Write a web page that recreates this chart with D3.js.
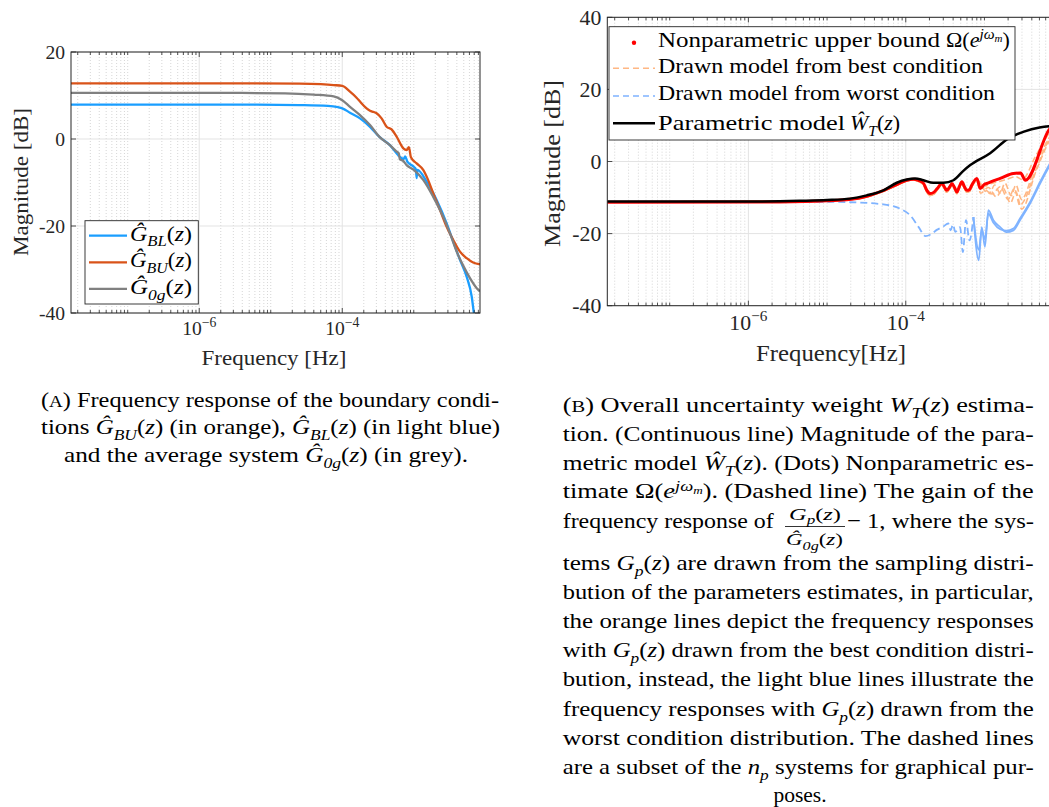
<!DOCTYPE html>
<html><head><meta charset="utf-8">
<script src="https://d3js.org/d3.v7.min.js"></script>
<style>
  body { margin: 0; background: #fff; }
  svg text { font-family: "Liberation Serif", "Times New Roman", serif; }
</style>
</head><body>
<svg id="fig" width="1049" height="807" font-family="Liberation Serif, serif"></svg>
<script>
// values: [log10 frequency in Hz, magnitude in dB]
const freqExtent = [-7.793, -2.074];
const freqLabels = [-6, -4];
const magTicksA = [-40, -20, 0, 20];
const magTicksB = [-40, -20, 0, 20, 40];

// (a) boundary conditions
const gBL = [[-7.793, 7.9], [-5.2, 7.9], [-4.6, 7.8], [-4.2, 7.6], [-4.06, 7.3], [-4.0, 7.05], [-3.892, 6.05], [-3.752, 4.75],
  [-3.612, 2.8], [-3.48, 0.5], [-3.334, -1.4], [-3.194, -4.1], [-3.14, -4.6], [-3.12, -4.0], [-3.09, -5.2], [-3.0, -6.4],
  [-2.97, -7.0], [-2.96, -9.0], [-2.95, -7.1], [-2.82, -9.8], [-2.68, -14.0], [-2.54, -19.4], [-2.448, -23.6], [-2.354, -27.8],
  [-2.26, -31.7], [-2.19, -36.2], [-2.16, -40.0], [-2.14, -42.5]];
const gBU = [[-7.793, 12.8], [-5.2, 12.8], [-4.6, 12.75], [-4.3, 12.6], [-4.12, 12.4], [-4.0, 12.2], [-3.892, 10.9], [-3.8, 9.5],
  [-3.752, 8.6], [-3.66, 7.05], [-3.612, 6.5], [-3.56, 6.2], [-3.52, 5.9], [-3.45, 4.75], [-3.38, 2.83], [-3.31, 2.2], [-3.24, 0.53],
  [-3.146, -2.14], [-3.10, -2.53], [-3.068, -1.9], [-3.04, -4.2], [-2.96, -5.6], [-2.868, -7.1], [-2.8, -9.4], [-2.728, -12.5],
  [-2.634, -16.3], [-2.54, -20.2], [-2.448, -23.2], [-2.354, -25.9], [-2.26, -27.4], [-2.17, -28.4], [-2.074, -28.8]];
const g0g = [[-7.793, 10.6], [-5.6, 10.6], [-4.8, 10.5], [-4.4, 10.2], [-4.12, 9.8], [-4.0, 8.9], [-3.892, 7.4], [-3.752, 5.5],
  [-3.612, 3.2], [-3.48, 0.5], [-3.334, -1.4], [-3.24, -2.9], [-3.21, -3.3], [-3.194, -4.7], [-3.15, -5.0], [-3.1, -6.0],
  [-3.0, -7.1], [-2.868, -9.4], [-2.728, -13.3], [-2.588, -17.9], [-2.494, -21.7], [-2.4, -25.9], [-2.3, -29.4], [-2.214, -32.0],
  [-2.12, -34.3], [-2.074, -35.0]];

// (b) uncertainty weight
const wtModel = [[-7.793, -11.1], [-6.0, -11.1], [-5.344, -10.9], [-5.0, -10.7], [-4.708, -10.3], [-4.496, -9.4], [-4.284, -8.0],
  [-4.114, -5.9], [-3.988, -5.0], [-3.88, -4.7], [-3.776, -5.2], [-3.65, -5.9], [-3.52, -5.9], [-3.394, -5.2], [-3.268, -2.6],
  [-3.18, -1.0], [-2.928, 2.3], [-2.69, 6.5], [-2.508, 8.2], [-2.3, 9.45], [-2.18, 9.8], [-2.074, 9.9]];
const omegaBound = [[-7.793, -11.3], [-5.6, -11.2], [-5.0, -10.9], [-4.6, -10.2], [-4.328, -8.45], [-4.114, -6.4], [-3.988, -5.2],
  [-3.904, -4.9], [-3.84, -5.2], [-3.776, -6.0], [-3.732, -8.0], [-3.692, -8.9], [-3.64, -8.5], [-3.6, -7.5], [-3.54, -6.1],
  [-3.51, -7.0], [-3.48, -8.0], [-3.44, -7.0], [-3.414, -6.1], [-3.38, -7.2], [-3.35, -8.45], [-3.32, -7.0], [-3.286, -5.65],
  [-3.254, -7.0], [-3.224, -8.0], [-3.19, -7.8], [-3.16, -6.5], [-3.096, -4.7], [-3.054, -7.5], [-3.0, -6.3], [-2.97, -6.1],
  [-2.88, -5.3], [-2.8, -4.7], [-2.632, -3.3], [-2.54, -3.2], [-2.48, -5.2], [-2.18, 8.8], [-2.074, 11.5]];
const bestShared = [[-7.793, -11.2], [-5.0, -10.9], [-4.6, -10.3], [-4.328, -8.6], [-4.114, -6.6], [-3.988, -5.4], [-3.904, -5.1],
  [-3.84, -5.5], [-3.776, -6.4], [-3.732, -8.5], [-3.692, -9.4], [-3.64, -9.0], [-3.6, -7.9], [-3.54, -6.5], [-3.51, -7.5],
  [-3.48, -8.5], [-3.44, -7.4], [-3.414, -6.5], [-3.38, -7.7], [-3.35, -8.9], [-3.32, -7.4], [-3.286, -6.1], [-3.254, -7.5],
  [-3.224, -8.5], [-3.19, -8.3], [-3.16, -7.0], [-3.096, -5.2]];
const bestTails = [
  [[-3.0, -6.8], [-2.9, -6.0], [-2.8, -5.5], [-2.7, -4.8], [-2.6, -4.2], [-2.52, -5.0], [-2.35, 1.5], [-2.18, 7.8], [-2.074, 10.5]],
  [[-3.0, -7.5], [-2.93, -8.6], [-2.87, -6.5], [-2.8, -8.8], [-2.74, -6.0], [-2.66, -9.5], [-2.6, -6.5], [-2.53, -10.5], [-2.35, -1.0], [-2.18, 6.5], [-2.074, 9.5]],
  [[-3.05, -8.8], [-2.95, -7.2], [-2.85, -9.8], [-2.76, -7.5], [-2.67, -11.5], [-2.6, -8.5], [-2.526, -13.2], [-2.35, -3.0], [-2.18, 5.5], [-2.074, 8.8]],
  [[-3.0, -8.0], [-2.9, -9.0], [-2.8, -7.0], [-2.7, -10.5], [-2.62, -7.5], [-2.55, -12.2], [-2.5, -11.0], [-2.35, -2.5], [-2.18, 6.0], [-2.074, 9.0]]
];
const worstShared = [[-7.793, -11.2], [-5.0, -11.2], [-4.708, -11.3], [-4.284, -11.9], [-4.072, -13.1], [-3.94, -15.0], [-3.836, -18.2],
  [-3.75, -20.7], [-3.68, -20.2], [-3.6, -18.9], [-3.52, -18.0], [-3.46, -17.2], [-3.43, -19.1], [-3.40, -17.5], [-3.37, -19.5],
  [-3.31, -18.2], [-3.274, -25.1], [-3.234, -16.3], [-3.19, -21.9], [-3.14, -15.4]];
const worstTails = [
  [[-3.072, -27.4], [-3.034, -18.2], [-2.994, -23.7], [-2.95, -13.5], [-2.886, -16.3], [-2.8, -18.2], [-2.72, -19.6], [-2.632, -19.1],
   [-2.548, -16.3], [-2.42, -11.7], [-2.292, -6.1], [-2.18, -1.5], [-2.074, 2.5]],
  [[-3.072, -24.5], [-3.034, -19.0], [-2.994, -21.5], [-2.95, -14.5], [-2.886, -17.0], [-2.8, -18.8], [-2.72, -19.2], [-2.632, -18.6],
   [-2.548, -15.8], [-2.42, -11.2], [-2.292, -5.6], [-2.18, -1.0], [-2.074, 3.0]]
];

const INK = "#262626";
const svg = d3.select("#fig");
svg.append("rect").attr("width", 1049).attr("height", 807).attr("fill", "#fff");

// --- little helpers for text with italics / sub / superscripts
const R = t => ({t});
const I = t => ({t, it: 1});
const SB = (t, it = 1) => ({t, it, sh: 0.28, sc: 0.7});
const SP = (t, it = 1) => ({t, it, sh: -0.36, sc: 0.7});
const SPSB = t => ({t, it: 1, sh: -0.2, sc: 0.5});

function rich(g, x, y, size, segs) {
  const t = g.append("text").attr("x", x).attr("y", y).attr("font-size", size);
  let cur = 0;
  segs.forEach(s => {
    const sh = (s.sh || 0) * size;
    const sp = t.append("tspan").text(s.t);
    if (sh !== cur) { sp.attr("dy", sh - cur); cur = sh; }
    if (s.sc) sp.attr("font-size", size * s.sc);
    if (s.it) sp.attr("font-style", "italic");
  });
  return t;
}
const fit = (t, len) => t.attr("textLength", len).attr("lengthAdjust", "spacingAndGlyphs");

// --- one axes box, matlab style
function panel(id, x, y, magTicks, fs) {
  const g = svg.append("g");
  const [x0, x1] = x.range(), [yb, yt] = y.range();
  const [d0, d1] = x.domain();
  const major = freqLabels.map(e => 10 ** e);
  const minor = [];
  for (let d = -8; d <= -2; d++) for (let k = 1; k <= 9; k++) {
    const v = k * 10 ** d;
    if (v >= d0 && v <= d1 && !(k === 1 && freqLabels.includes(d))) minor.push(v);
  }
  g.selectAll(".mg").data(minor).join("line")
    .attr("x1", d => x(d)).attr("x2", d => x(d)).attr("y1", yb).attr("y2", yt)
    .attr("stroke", "#c4c4c4").attr("stroke-width", 0.7).attr("stroke-dasharray", "1,2");
  g.selectAll(".Mg").data(major).join("line")
    .attr("x1", d => x(d)).attr("x2", d => x(d)).attr("y1", yb).attr("y2", yt)
    .attr("stroke", "#e3e3e3").attr("stroke-width", 1);
  g.selectAll(".hg").data(magTicks).join("line")
    .attr("x1", x0).attr("x2", x1).attr("y1", d => y(d)).attr("y2", d => y(d))
    .attr("stroke", "#e3e3e3").attr("stroke-width", 1);

  svg.append("clipPath").attr("id", id).append("rect")
    .attr("x", x0).attr("y", yt).attr("width", x1 - x0).attr("height", yb - yt);
  const curves = svg.append("g").attr("clip-path", `url(#${id})`);

  const frame = svg.append("g");
  frame.append("rect").attr("x", x0).attr("y", yt).attr("width", x1 - x0).attr("height", yb - yt)
    .attr("fill", "none").attr("stroke", INK).attr("stroke-width", 1);
  [[yb, -1], [yt, 1]].forEach(([yy, s]) => {
    frame.selectAll(null).data(minor).join("line")
      .attr("x1", d => x(d)).attr("x2", d => x(d)).attr("y1", yy).attr("y2", yy + s * 3)
      .attr("stroke", INK).attr("stroke-width", 0.8);
    frame.selectAll(null).data(major).join("line")
      .attr("x1", d => x(d)).attr("x2", d => x(d)).attr("y1", yy).attr("y2", yy + s * 5)
      .attr("stroke", INK).attr("stroke-width", 0.8);
  });
  [[x0, 1], [x1, -1]].forEach(([xx, s]) => {
    frame.selectAll(null).data(magTicks).join("line")
      .attr("x1", xx).attr("x2", xx + s * 5).attr("y1", d => y(d)).attr("y2", d => y(d))
      .attr("stroke", INK).attr("stroke-width", 0.8);
  });
  frame.selectAll(null).data(magTicks).join("text")
    .attr("x", x0 - 6).attr("y", d => y(d) + fs * 0.35)
    .attr("text-anchor", "end").attr("font-size", fs).attr("fill", INK)
    .text(d => d);
  freqLabels.forEach(e => {
    rich(frame, x(10 ** e), yb + fs * 1.12, fs, [R("10"), {t: "\u2212" + Math.abs(e), sh: -0.42, sc: 0.7}])
      .attr("text-anchor", "middle").attr("fill", INK);
  });
  return {curves, frame};
}

const line = (x, y) => d3.line().x(d => x(10 ** d[0])).y(d => y(d[1])).curve(d3.curveMonotoneX);

// ================= panel (a)
const xA = d3.scaleLog().domain(freqExtent.map(e => 10 ** e)).range([71, 480]);
const yA = d3.scaleLinear().domain([-40, 20]).range([313, 52]);
const pA = panel("clipA", xA, yA, magTicksA, 19.6);
const lA = line(xA, yA);
const seriesA = [
  {data: gBL, color: "#1a9eff", label: [I("\u011C"), SB("BL"), R("("), I("z"), R(")")]},
  {data: gBU, color: "#d95319", label: [I("\u011C"), SB("BU"), R("("), I("z"), R(")")]},
  {data: g0g, color: "#808080", label: [I("\u011C"), SB("0g"), R("("), I("z"), R(")")]}
];
pA.curves.selectAll("path").data(seriesA).join("path")
  .attr("d", d => lA(d.data)).attr("fill", "none")
  .attr("stroke", d => d.color).attr("stroke-width", 2.3);

const legA = svg.append("g");
legA.append("rect").attr("x", 85).attr("y", 220.7).attr("width", 113.3).attr("height", 83.3)
  .attr("fill", "#fff").attr("stroke", INK).attr("stroke-width", 0.9);
seriesA.forEach((s, i) => {
  const yy = 235.7 + i * 26.6;
  legA.append("line").attr("x1", 89).attr("x2", 127).attr("y1", yy).attr("y2", yy)
    .attr("stroke", s.color).attr("stroke-width", 2.3);
  fit(rich(legA, 130, yy + 5, 20.5, s.label), 62).attr("fill", "#000");
});
fit(svg.append("text").attr("x", 274).attr("y", 365).attr("text-anchor", "middle")
  .attr("font-size", 21.6).attr("fill", INK).text("Frequency [Hz]"), 145);
fit(svg.append("text").attr("transform", "translate(28,182) rotate(-90)").attr("text-anchor", "middle")
  .attr("font-size", 21.6).attr("fill", INK).text("Magnitude [dB]"), 148);

// ================= panel (b)
const xB = d3.scaleLog().domain(freqExtent.map(e => 10 ** e)).range([607.3, 1057.3]);
const yB = d3.scaleLinear().domain([-40, 40]).range([305.7, 17.3]);
const pB = panel("clipB", xB, yB, magTicksB, 21.8);
const lB = line(xB, yB);
const bestColor = "#ffb784", worstColor = "#7fb3ff";

// worst condition: sparse part dashed, dense high-frequency part looks solid
pB.curves.append("path").attr("d", lB(worstShared)).attr("fill", "none")
  .attr("stroke", worstColor).attr("stroke-width", 1.8).attr("stroke-dasharray", "7,4");
pB.curves.selectAll("path.worst").data(worstTails.map(t => worstShared.slice(-1).concat(t))).join("path")
  .attr("class", "worst").attr("d", lB).attr("fill", "none")
  .attr("stroke", worstColor).attr("stroke-width", 1.8);
pB.curves.selectAll("path.best").data(bestTails.map(t => bestShared.concat(t))).join("path")
  .attr("class", "best").attr("d", lB).attr("fill", "none")
  .attr("stroke", bestColor).attr("stroke-width", 1.6)
  .attr("stroke-dasharray", "6,3").attr("stroke-dashoffset", (d, i) => i * 2.5);
pB.curves.append("path").attr("d", lB(omegaBound)).attr("fill", "none")
  .attr("stroke", "#ff0000").attr("stroke-width", 3);
pB.curves.append("path").attr("d", lB(wtModel)).attr("fill", "none")
  .attr("stroke", "#000").attr("stroke-width", 2.5);

const legB = svg.append("g").attr("fill", "#000");
legB.append("rect").attr("x", 609).attr("y", 26.7).attr("width", 406).attr("height", 113.3)
  .attr("fill", "#fff").attr("stroke", INK).attr("stroke-width", 0.9);
legB.append("circle").attr("cx", 634).attr("cy", 42.7).attr("r", 2.2).attr("fill", "#ff0000");
[[68.3, bestColor], [96, worstColor]].forEach(([yy, c]) => {
  legB.append("line").attr("x1", 613).attr("x2", 655).attr("y1", yy).attr("y2", yy)
    .attr("stroke", c).attr("stroke-width", 1.6).attr("stroke-dasharray", "6,4");
});
legB.append("line").attr("x1", 613).attr("x2", 655).attr("y1", 123.3).attr("y2", 123.3)
  .attr("stroke", "#000").attr("stroke-width", 2.5);
// [baseline, words, width of words, math part, x where the math starts]
const legBText = [
  [46.7, "Nonparametric upper bound", 282, [R("\u03A9("), I("e"), SP("j\u03C9"), SPSB("m"), R(")")], 946],
  [73.3, "Drawn model from best condition", 325, null],
  [100, "Drawn model from worst condition", 337, null],
  [130, "Parametric model", 187, [I("\u0174"), SB("T"), R("("), I("z"), R(")")], 850]
];
legBText.forEach(([yy, words, len, math, mx]) => {
  fit(legB.append("text").attr("x", 658).attr("y", yy).attr("font-size", 22).text(words), len);
  if (math) rich(legB, mx, yy, 22, math);
});

fit(svg.append("text").attr("x", 831).attr("y", 361).attr("text-anchor", "middle")
  .attr("font-size", 24).attr("fill", INK).text("Frequency[Hz]"), 150);
fit(svg.append("text").attr("transform", "translate(560,163.5) rotate(-90)").attr("text-anchor", "middle")
  .attr("font-size", 24).attr("fill", INK).text("Magnitude [dB]"), 167);

// ================= captions
const cap = svg.append("g").attr("fill", "#000");
const CS = 21.5;
const captionA = [
  [[R("("), {t: "A", sc: 0.78}, R(") Frequency response of the boundary condi-")], 41, 458],
  [[R("tions "), I("\u011C"), SB("BU"), R("("), I("z"), R(") (in orange), "), I("\u011C"), SB("BL"), R("("), I("z"), R(") (in light blue)")], 41, 459],
  [[R("and the average system "), I("\u011C"), SB("0g"), R("("), I("z"), R(") (in grey).")], 64, 404]
];
captionA.forEach(([segs, x, len], i) => fit(rich(cap, x, 406.5 + i * 27.5, CS, segs), len));

const captionB = [
  [R("("), {t: "B", sc: 0.78}, R(") Overall uncertainty weight "), I("W"), SB("T"), R("("), I("z"), R(") estima-")],
  [R("tion.  (Continuous line) Magnitude of the para-")],
  [R("metric model "), I("\u0174"), SB("T"), R("("), I("z"), R("). (Dots) Nonparametric es-")],
  [R("timate \u03A9("), I("e"), SP("j\u03C9"), SPSB("m"), R("). (Dashed line) The gain of the")],
  null,
  [R("tems "), I("G"), SB("p"), R("("), I("z"), R(") are drawn from the sampling distri-")],
  [R("bution of the parameters estimates, in particular,")],
  [R("the orange lines depict the frequency responses")],
  [R("with "), I("G"), SB("p"), R("("), I("z"), R(") drawn from the best condition distri-")],
  [R("bution, instead, the light blue lines illustrate the")],
  [R("frequency responses with "), I("G"), SB("p"), R("("), I("z"), R(") drawn from the")],
  [R("worst condition distribution.  The dashed lines")],
  [R("are a subset of the "), I("n"), SB("p"), R(" systems for graphical pur-")]
];
const baseB = i => i < 5 ? 411.7 + i * 28.9 : 570 + (i - 5) * 29.1;
captionB.forEach((segs, i) => {
  if (segs) fit(rich(cap, 562.7, baseB(i), CS, segs), 471);
});
// line with the fraction
fit(rich(cap, 562.7, 528.3, CS, [R("frequency response of")]), 211);
fit(rich(cap, 789, 519.5, 17.5, [I("G"), SB("p"), R("("), I("z"), R(")")]), 52);
cap.append("line").attr("x1", 785).attr("x2", 845).attr("y1", 526.5).attr("y2", 526.5)
  .attr("stroke", "#000").attr("stroke-width", 0.8);
fit(rich(cap, 786, 545, 17.5, [I("\u011C"), SB("0g"), R("("), I("z"), R(")")]), 57);
fit(rich(cap, 847, 528.3, CS, [R("\u2212 1, where the sys-")]), 187);
rich(cap, 800, 801.7, CS, [R("poses.")]).attr("text-anchor", "middle");
</script>
</body></html>
